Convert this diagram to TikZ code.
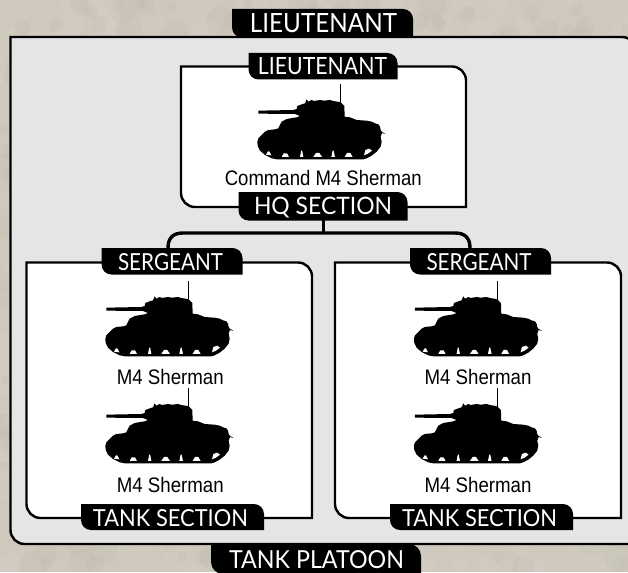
\documentclass[tikz,border=0pt]{standalone}
\usepackage{fontspec}
\setmainfont{Liberation Sans}
\newfontfamily\tabfont{Lato}
\definecolor{stone}{HTML}{CFC9BD}
\definecolor{panel}{HTML}{E4E5E7}
\tikzset{
  tabtext/.style={text=white,inner sep=0pt,text height=#1,text depth=0pt,font=\tabfont\fontsize{24}{24}\selectfont},
  unitlabel/.style={text=black,inner sep=0pt,anchor=base,font=\fontsize{21}{21}\selectfont},
  boxline/.style={line width=2.4pt,draw=black},
  linkline/.style={line width=3.4pt,draw=black},
  tank/.pic={
    \begin{scope}[x=0.3333pt,y=-0.3333pt]
    \fill[black] (25,92) -- (130,90) -- (140,87) -- (142,78) -- (158,72) -- (165,70) -- (170,58) -- (175,65) -- (185,60) -- (192,63) -- (210,60) -- (222,62) -- (240,60) -- (250,63) -- (268,66) -- (275,70) -- (283,78) -- (284,110) -- (300,112) -- (320,120) -- (350,122) -- (365,125) -- (375,130) -- (385,133) -- (390,140) -- (392,150) -- (395,155) -- (407,162) -- (396,159) -- (392,170) -- (395,185) -- (392,200) -- (380,215) -- (365,227) -- (350,235) -- (340,238) -- (80,238) -- (65,235) -- (45,225) -- (30,212) -- (23,198) -- (22,185) -- (25,175) -- (35,165) -- (45,155) -- (55,150) -- (75,148) -- (85,145) -- (95,125) -- (110,117) -- (140,112) -- (150,108) -- (135,102) -- (25,101) -- cycle;
    \draw[black,line width=0.8pt] (272,12) -- (272,68);
    \fill[white] (48,224) -- (54,214) -- (58,214) -- (64,226) -- cycle;
    \fill[white] (95,231) -- (101,220) -- (111,220) -- (117,231) -- cycle;
    \fill[white] (150,231) -- (153.5,212) -- (156.5,212) -- (160,231) -- cycle;
    \fill[white] (190,231) -- (198,219) -- (208,219) -- (216,231) -- cycle;
    \fill[white] (244,231) -- (248,212) -- (251,212) -- (255,231) -- cycle;
    \fill[white] (284,231) -- (291,219) -- (301,219) -- (308,231) -- cycle;
    \fill[white] (342,226) -- (346,210) -- (358,206) -- (366,212) -- (354,221) -- cycle;
    \end{scope}
  }
}
% diagonal panel: top-right and bottom-left corners rounded
\newcommand{\diagpath}[5]{(#1,#2) -- ({#3-#5},#2) .. controls ({#3-0.45*#5},#2) and (#3,{#2+0.45*#5}) .. (#3,{#2+#5}) -- (#3,#4) -- ({#1+#5},#4) .. controls ({#1+0.45*#5},#4) and (#1,{#4-0.45*#5}) .. (#1,{#4-#5}) -- cycle}
\begin{document}
\begin{tikzpicture}[x=1pt,y=-1pt]
\useasboundingbox (0,0) rectangle (628,572);
\fill[stone] (0,0) rectangle (628,572);
\pgfmathsetseed{11}
\foreach \i in {1,...,700}{
  \pgfmathsetmacro\px{rnd*628}
  \pgfmathsetmacro\py{rnd*572}
  \pgfmathsetmacro\pr{3+rnd*12}
  \fill[white,opacity=0.035] (\px,\py) circle (\pr);
  \pgfmathsetmacro\qx{rnd*628}
  \pgfmathsetmacro\qy{rnd*572}
  \pgfmathsetmacro\qr{3+rnd*12}
  \fill[black!60!brown,opacity=0.025] (\qx,\qy) circle (\qr);
}
% panels
\filldraw[boxline,fill=panel] \diagpath{10.5}{37}{636}{544}{14};
\filldraw[boxline,fill=white] \diagpath{181}{66.5}{466}{207}{14};
\filldraw[boxline,fill=white] \diagpath{26.5}{262.5}{312}{518}{14};
\filldraw[boxline,fill=white] \diagpath{335}{262.5}{621}{518}{14};
% tab shapes
\fill[black] \diagpath{232}{9}{413}{37.5}{10};
\fill[black] \diagpath{248.5}{53}{397.5}{79.5}{10};
\fill[black] \diagpath{238.5}{192}{407.5}{220.5}{10};
\fill[black] \diagpath{101.5}{248}{242.5}{274.5}{10};
\fill[black] \diagpath{410}{248}{551}{274.5}{10};
\fill[black] \diagpath{81}{504}{264}{530}{10};
\fill[black] \diagpath{390}{504}{573}{530}{10};
\fill[black] \diagpath{211}{544}{421}{574}{12};
% tab labels
\node[tabtext=19pt] (platoonLt) at (323.5,23.5) {\resizebox{147pt}{19pt}{LIEUTENANT}};
\node[tabtext=17pt] (hqLt) at (322.5,66.5) {\resizebox{129pt}{17pt}{LIEUTENANT}};
\node[tabtext=17.5pt] (hq) at (323,205.5) {\resizebox{138pt}{\height}{HQ SECTION}};
\node[tabtext=17pt] (sgtL) at (170.5,261.5) {\resizebox{105pt}{17pt}{SERGEANT}};
\node[tabtext=17pt] (sgtR) at (479,261.5) {\resizebox{105pt}{17pt}{SERGEANT}};
\node[tabtext=17pt] (secL) at (170.5,517.5) {\resizebox{155pt}{17pt}{TANK SECTION}};
\node[tabtext=17pt] (secR) at (479.5,517.5) {\resizebox{155pt}{17pt}{TANK SECTION}};
\node[tabtext=18pt] (platoon) at (316.5,559) {\resizebox{175pt}{18pt}{TANK PLATOON}};
% connector
\coordinate (hqfoot) at (323.5,220);
\coordinate (barL) at (168,248);
\coordinate (barR) at (470,248);
\draw[linkline] (hqfoot) -- (hqfoot |- 0,233);
\draw[linkline] (barL) .. controls (168,238) and (173,233) .. (183,233) -- (455,233) .. controls (465,233) and (470,238) .. (barR);
% tanks
\pic at (250,80) {tank};
\pic at (98,277) {tank};
\pic at (98,384) {tank};
\pic at (406.6,277) {tank};
\pic at (406.6,384) {tank};
% labels
\node[unitlabel] (cmdTank) at (323.3,185) {\resizebox{197pt}{\height}{Command M4 Sherman}};
\node[unitlabel] (t1) at (170.3,384) {\resizebox{107pt}{\height}{M4 Sherman}};
\node[unitlabel] (t2) at (170.3,492) {\resizebox{107pt}{\height}{M4 Sherman}};
\node[unitlabel] (t3) at (478,384) {\resizebox{107pt}{\height}{M4 Sherman}};
\node[unitlabel] (t4) at (478,492) {\resizebox{107pt}{\height}{M4 Sherman}};
\end{tikzpicture}
\end{document}
